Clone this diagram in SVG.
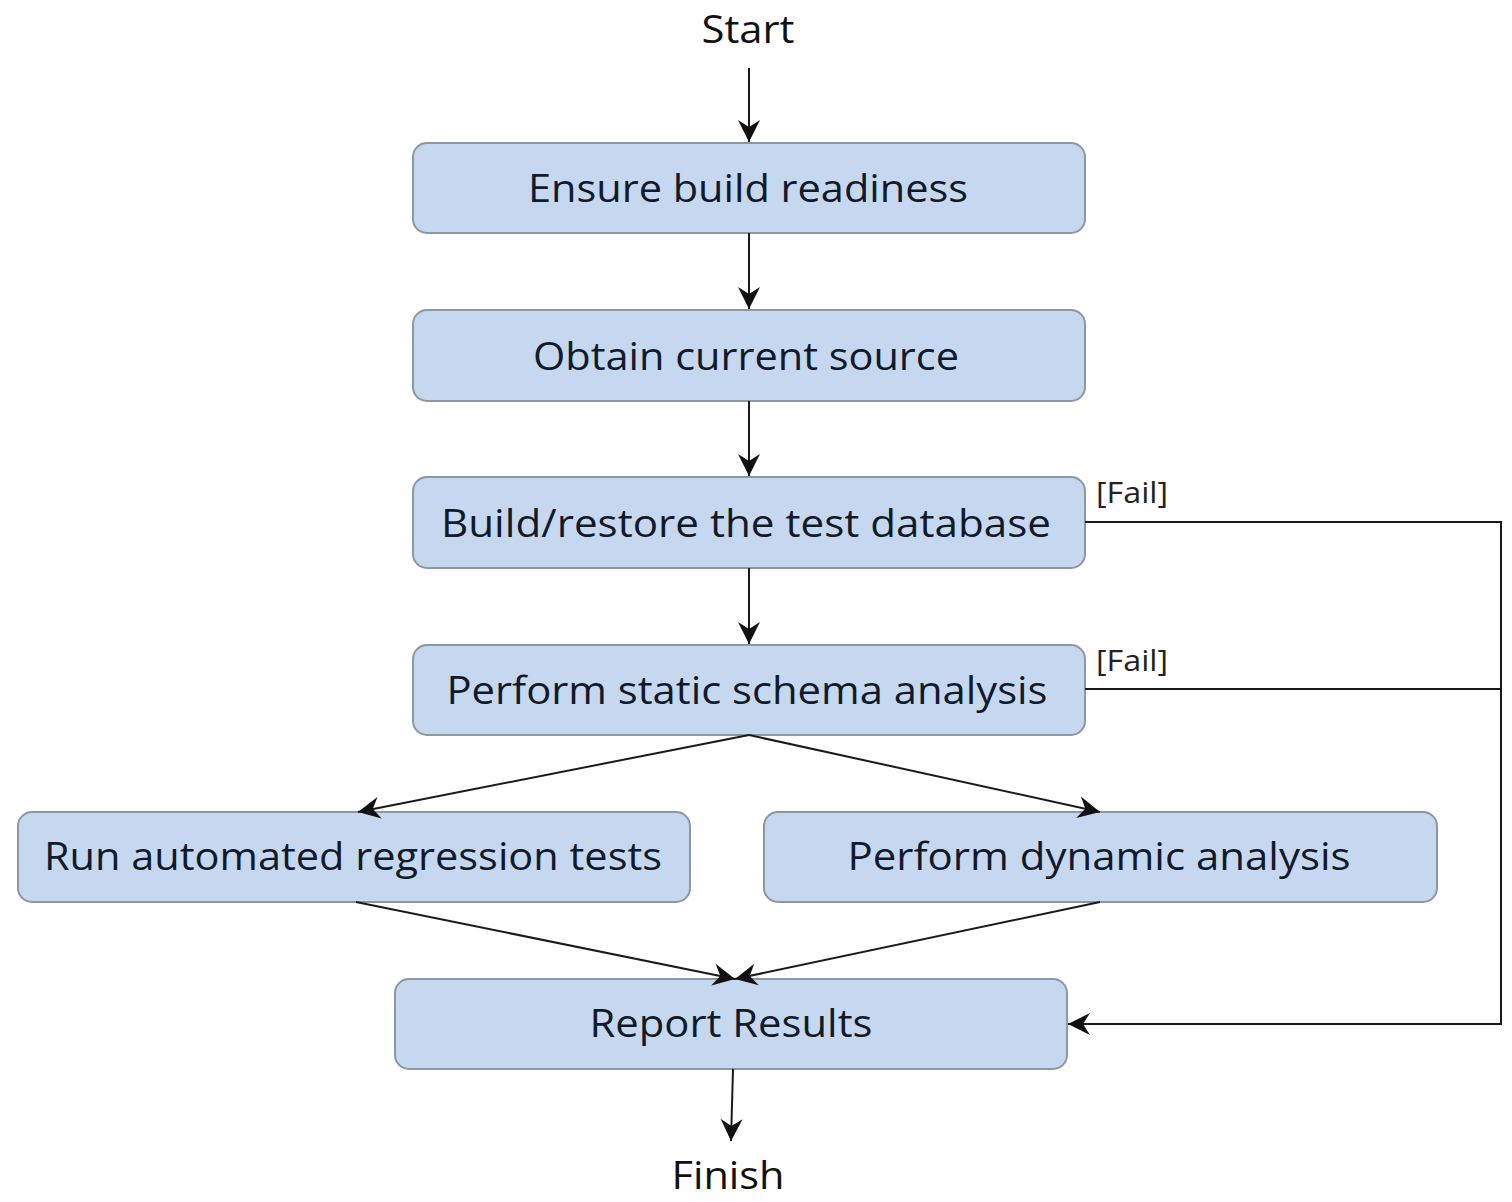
<svg xmlns="http://www.w3.org/2000/svg" width="1512" height="1202" viewBox="0 0 1512 1202">
  <defs>
    <style>
      .box { fill: #c6d8ef; stroke: #8d97a6; stroke-width: 2; }
      .lbl { font-family: "Open Sans", "Noto Sans", "Liberation Sans", sans-serif; font-size: 38px; fill: #121a2a; text-anchor: middle; }
      .term { font-family: "Open Sans", "Noto Sans", "Liberation Sans", sans-serif; font-size: 38px; fill: #111; text-anchor: middle; }
      .fail { font-family: "Open Sans", "Noto Sans", "Liberation Sans", sans-serif; font-size: 30px; fill: #222; }
      .edge { fill: none; stroke: #1a1a1a; stroke-width: 2; }
    </style>
    <marker id="arrow" viewBox="0 0 24 24" refX="23" refY="12" markerWidth="24" markerHeight="24" markerUnits="userSpaceOnUse" orient="auto">
      <path d="M1,1 L23,12 L1,23 L8,12 Z" fill="#111"/>
    </marker>
  </defs>

  <rect width="1512" height="1202" fill="#ffffff"/>

  <g id="start">
    <text class="term" x="748" y="43" textLength="93" lengthAdjust="spacingAndGlyphs">Start</text>
  </g>

  <g id="ensure-build">
    <rect class="box" x="413" y="143" width="672" height="90" rx="14"/>
    <text class="lbl" x="748" y="202" textLength="440" lengthAdjust="spacingAndGlyphs">Ensure build readiness</text>
  </g>

  <g id="obtain-source">
    <rect class="box" x="413" y="310" width="672" height="91" rx="14"/>
    <text class="lbl" x="746" y="370" textLength="426" lengthAdjust="spacingAndGlyphs">Obtain current source</text>
  </g>

  <g id="build-db">
    <rect class="box" x="413" y="477" width="672" height="91" rx="14"/>
    <text class="lbl" x="746" y="537" textLength="610" lengthAdjust="spacingAndGlyphs">Build/restore the test database</text>
  </g>

  <g id="static-analysis">
    <rect class="box" x="413" y="645" width="672" height="90" rx="14"/>
    <text class="lbl" x="747" y="704" textLength="601" lengthAdjust="spacingAndGlyphs">Perform  static schema analysis</text>
  </g>

  <g id="regression-tests">
    <rect class="box" x="18" y="812" width="672" height="90" rx="14"/>
    <text class="lbl" x="353" y="870" textLength="618" lengthAdjust="spacingAndGlyphs">Run automated regression tests</text>
  </g>

  <g id="dynamic-analysis">
    <rect class="box" x="764" y="812" width="673" height="90" rx="14"/>
    <text class="lbl" x="1099" y="870" textLength="503" lengthAdjust="spacingAndGlyphs">Perform  dynamic analysis</text>
  </g>

  <g id="report-results">
    <rect class="box" x="395" y="979" width="672" height="90" rx="14"/>
    <text class="lbl" x="731" y="1037" textLength="283" lengthAdjust="spacingAndGlyphs">Report Results</text>
  </g>

  <g id="finish">
    <text class="term" x="728" y="1189" textLength="113" lengthAdjust="spacingAndGlyphs">Finish</text>
  </g>

  <g id="connectors">
    <line class="edge" x1="749" y1="68" x2="749" y2="142" marker-end="url(#arrow)"/>
    <line class="edge" x1="749" y1="233" x2="749" y2="309" marker-end="url(#arrow)"/>
    <line class="edge" x1="749" y1="401" x2="749" y2="476" marker-end="url(#arrow)"/>
    <line class="edge" x1="749" y1="568" x2="749" y2="644" marker-end="url(#arrow)"/>
    <line class="edge" x1="749" y1="735" x2="358" y2="812" marker-end="url(#arrow)"/>
    <line class="edge" x1="749" y1="735" x2="1100" y2="812" marker-end="url(#arrow)"/>
    <line class="edge" x1="356" y1="902" x2="735" y2="979" marker-end="url(#arrow)"/>
    <line class="edge" x1="1100" y1="902" x2="735" y2="979" marker-end="url(#arrow)"/>
    <line class="edge" x1="733" y1="1069" x2="731" y2="1141" marker-end="url(#arrow)"/>
    <polyline class="edge" points="1085,522 1501,522 1501,1024 1068,1024" marker-end="url(#arrow)"/>
    <line class="edge" x1="1085" y1="689" x2="1501" y2="689"/>
    <text class="fail" x="1096" y="503" textLength="72" lengthAdjust="spacingAndGlyphs">[Fail]</text>
    <text class="fail" x="1096" y="671" textLength="72" lengthAdjust="spacingAndGlyphs">[Fail]</text>
  </g>
</svg>
